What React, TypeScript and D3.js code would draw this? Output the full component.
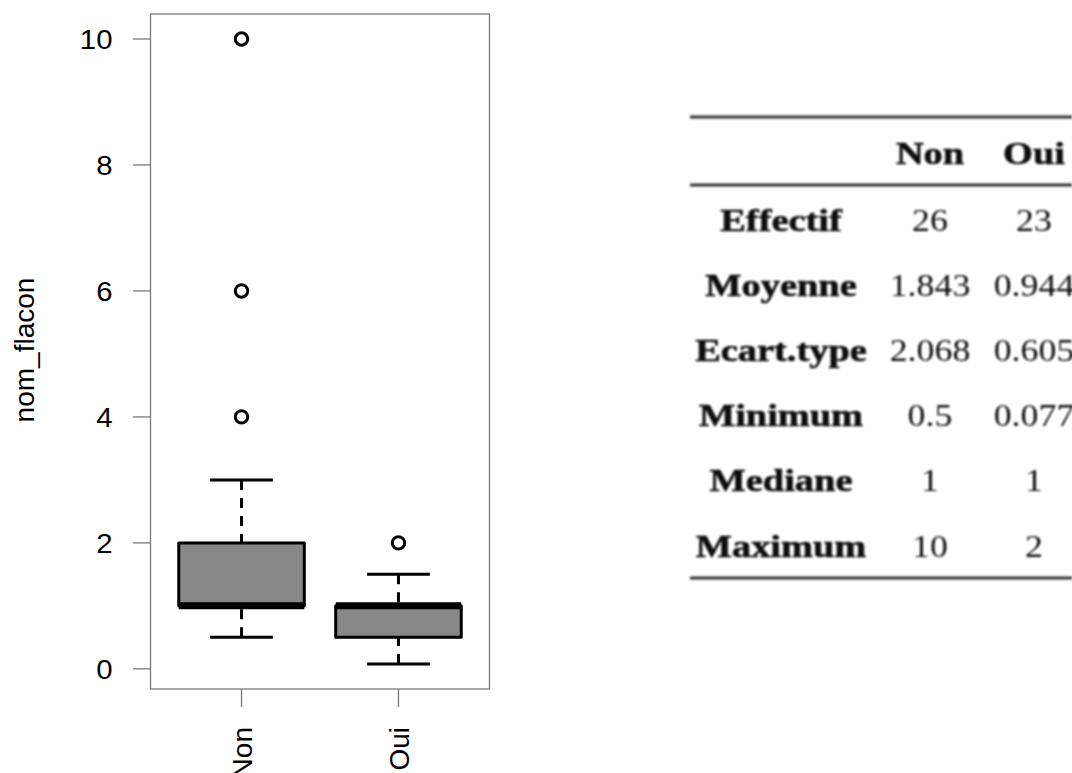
import React from "react";
import * as d3 from "d3";

// Groups and five-number summaries for the box plot
const groups = ["Non", "Oui"];
const whiskerLow = [0.5, 0.077];
const q1 = [1, 0.5];
const median = [1, 1];
const q3 = [2, 1];
const whiskerHigh = [3, 1.5];
const outliers = [[4, 6, 10], [2]];
const yTicks = [0, 2, 4, 6, 8, 10];
const yLabel = "nom_flacon";

// Summary table
const tableColumns = ["Non", "Oui"];
const tableRows = ["Effectif", "Moyenne", "Ecart.type", "Minimum", "Mediane", "Maximum"];
const tableNon = ["26", "1.843", "2.068", "0.5", "1", "10"];
const tableOui = ["23", "0.944", "0.605", "0.077", "1", "2"];

const W = 1072;
const H = 773;

export default function App() {
  const frame = { left: 150.5, right: 489.5, top: 14, bottom: 689 };
  const y = d3.scaleLinear().domain([-0.32, 10.397]).range([frame.bottom, frame.top]);
  const x = d3.scaleLinear().domain([0.42, 2.58]).range([frame.left, frame.right]);
  const boxHalf = 0.4;
  const capHalf = 0.2;
  const sans = "'Liberation Sans', Arial, sans-serif";
  const serif = "'Liberation Serif', 'Times New Roman', serif";
  const tickFs = 28;
  const lw = 3;

  const colNon = 930;
  const colOui = 1034;
  const colLabel = 781;
  const headerBase = 164;
  const rowBase = (i: number) => 231 + i * 65.1;

  return (
    <svg width={W} height={H} style={{ position: "absolute", left: 0, top: 0, background: "#fff" }}>
      <defs>
        <filter id="soft" x="-5%" y="-5%" width="110%" height="110%">
          <feGaussianBlur stdDeviation="0.8" />
        </filter>
      </defs>
      <rect x={0} y={0} width={W} height={H} fill="#fff" />

      {/* boxes */}
      {groups.map((g, i) => {
        const cx = x(i + 1);
        const fg = "#000";
        return (
          <g key={g}>
            <line x1={cx} x2={cx} y1={y(whiskerLow[i])} y2={y(q1[i])} stroke={fg} strokeWidth={lw} strokeDasharray="10,8" />
            <line x1={cx} x2={cx} y1={y(whiskerHigh[i])} y2={y(q3[i])} stroke={fg} strokeWidth={lw} strokeDasharray="10,8" />
            <line x1={x(i + 1 - capHalf)} x2={x(i + 1 + capHalf)} y1={y(whiskerLow[i])} y2={y(whiskerLow[i])} stroke={fg} strokeWidth={lw} />
            <line x1={x(i + 1 - capHalf)} x2={x(i + 1 + capHalf)} y1={y(whiskerHigh[i])} y2={y(whiskerHigh[i])} stroke={fg} strokeWidth={lw} />
            <rect
              x={x(i + 1 - boxHalf)}
              y={y(q3[i])}
              width={x(i + 1 + boxHalf) - x(i + 1 - boxHalf)}
              height={Math.max(0, y(q1[i]) - y(q3[i]))}
              fill="#878787"
              stroke={fg}
              strokeWidth={lw}
              strokeLinejoin="round"
            />
            <line x1={x(i + 1 - boxHalf)} x2={x(i + 1 + boxHalf)} y1={y(median[i])} y2={y(median[i])} stroke={fg} strokeWidth={7} />
            {outliers[i].map((v) => (
              <circle key={v} cx={cx} cy={y(v)} r={6.2} fill="none" stroke={fg} strokeWidth={3} />
            ))}
          </g>
        );
      })}

      {/* frame */}
      <rect x={frame.left} y={frame.top} width={frame.right - frame.left} height={frame.bottom - frame.top} fill="none" stroke="#7a7a7a" strokeWidth={1.3} />

      {/* y axis */}
      {yTicks.map((t) => (
        <g key={t}>
          <line x1={133} x2={frame.left} y1={y(t)} y2={y(t)} stroke="#7a7a7a" strokeWidth={1.3} />
          <text
            transform={`translate(112.5,${y(t)}) scale(1.05,1)`}
            textAnchor="end"
            dy="0.36em"
            fontFamily={sans}
            fontSize={tickFs}
            fill="#000"
          >
            {t}
          </text>
        </g>
      ))}
      <text
        transform={`translate(24,350) rotate(-90)`}
        textAnchor="middle"
        dy="0.36em"
        fontFamily={sans}
        fontSize={tickFs}
        fill="#000"
      >
        {yLabel}
      </text>

      {/* x axis */}
      {groups.map((g, i) => (
        <g key={g}>
          <line x1={x(i + 1)} x2={x(i + 1)} y1={frame.bottom} y2={707} stroke="#7a7a7a" strokeWidth={1.3} />
          <text
            transform={`translate(${x(i + 1)},727) rotate(-90)`}
            textAnchor="end"
            dy="0.36em"
            fontFamily={sans}
            fontSize={tickFs}
            fill="#000"
          >
            {g}
          </text>
        </g>
      ))}

      {/* summary table */}
      <g filter="url(#soft)" fill="#111">
        <line x1={690} x2={W} y1={117} y2={117} stroke="#333" strokeWidth={2.8} />
        <line x1={690} x2={W} y1={185} y2={185} stroke="#333" strokeWidth={2.8} />
        <line x1={690} x2={W} y1={578} y2={578} stroke="#333" strokeWidth={2.8} />
        {tableColumns.map((c, j) => (
          <text
            key={c}
            transform={`translate(${j === 0 ? colNon : colOui},${headerBase}) scale(1.2,1)`}
            textAnchor="middle"
            fontFamily={serif}
            fontWeight="bold"
            fontSize={32}
            stroke="#111"
            strokeWidth={0.6}
          >
            {c}
          </text>
        ))}
        {tableRows.map((r, i) => (
          <g key={r}>
            <text
              transform={`translate(${colLabel},${rowBase(i)}) scale(1.2,1)`}
              textAnchor="middle"
              fontFamily={serif}
              fontWeight="bold"
              fontSize={32}
              stroke="#111"
              strokeWidth={0.6}
            >
              {r}
            </text>
            <text
              transform={`translate(${colNon},${rowBase(i)}) scale(1.12,1)`}
              textAnchor="middle"
              fontFamily={serif}
              fontSize={32}
            >
              {tableNon[i]}
            </text>
            <text
              transform={`translate(${colOui},${rowBase(i)}) scale(1.12,1)`}
              textAnchor="middle"
              fontFamily={serif}
              fontSize={32}
            >
              {tableOui[i]}
            </text>
          </g>
        ))}
      </g>
    </svg>
  );
}
